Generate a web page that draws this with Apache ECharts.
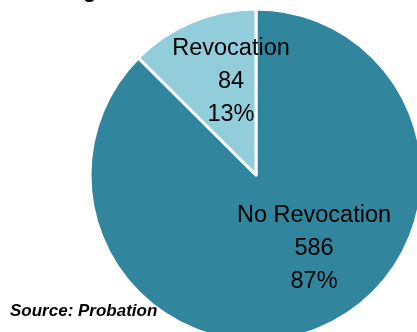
<!DOCTYPE html>
<html>
<head>
<meta charset="utf-8">
<script src="https://cdn.jsdelivr.net/npm/echarts@6/dist/echarts.min.js"></script>
<style>
html,body{margin:0;padding:0;background:#fff;}
#chart{width:417px;height:332px;}
</style>
</head>
<body>
<div id="chart"></div>
<script>
var categories = ['No Revocation', 'Revocation'];
var values = [586, 84];
var colors = ['#31859C', '#92CDDC'];
var titleText = 'Percentage and Number of Revocations';
var sourceText = 'Source: Probation';

var labelShift = [[25, -6], [8, -14]];

var chart = echarts.init(document.getElementById('chart'), null, {renderer: 'canvas'});
chart.setOption({
  animation: false,
  backgroundColor: '#ffffff',
  title: [
    {
      text: titleText, left: -10, top: -20, padding: 0,
      textStyle: {fontFamily: 'Liberation Sans', fontWeight: 'bold', fontSize: 22, color: '#000'}
    },
    {
      text: sourceText, left: 10, top: 303, padding: 0,
      textStyle: {fontFamily: 'Liberation Sans', fontWeight: 'bold', fontStyle: 'italic', fontSize: 17, color: '#000'}
    }
  ],
  series: [{
    type: 'pie',
    center: [256, 175],
    radius: [0, 166],
    startAngle: 90,
    clockwise: true,
    itemStyle: {borderColor: '#ffffff', borderWidth: 3},
    label: {
      show: true,
      position: 'inside',
      fontFamily: 'Liberation Sans',
      fontSize: 23.5,
      lineHeight: 33,
      color: '#000',
      formatter: function (p) { return p.name + '\n' + p.value + '\n' + Math.round(p.percent) + '%'; }
    },
    labelLine: {show: false},
    labelLayout: function (p) { return {dx: labelShift[p.dataIndex][0], dy: labelShift[p.dataIndex][1]}; },
    emphasis: {disabled: true},
    data: categories.map(function (c, i) { return {name: c, value: values[i], itemStyle: {color: colors[i]}}; })
  }]
});
</script>
</body>
</html>
